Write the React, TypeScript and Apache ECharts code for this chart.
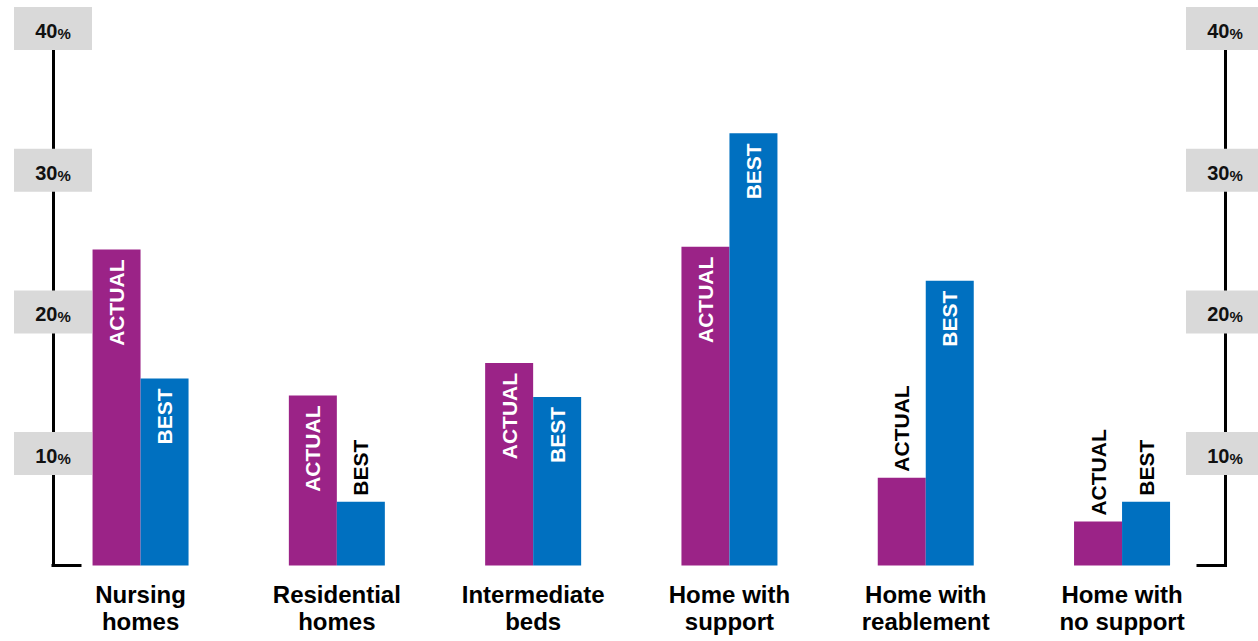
import React, { useEffect, useRef } from "react";
import * as echarts from "echarts";

// ---- data ----
const categories = [
  "Nursing\nhomes",
  "Residential\nhomes",
  "Intermediate\nbeds",
  "Home with\nsupport",
  "Home with\nreablement",
  "Home with\nno support",
];
const seriesNames = ["ACTUAL", "BEST"];
const actualValues = [24.4, 14.1, 16.4, 24.6, 8.3, 5.2];
const bestValues = [15.3, 6.6, 14.0, 32.6, 22.2, 6.6];
const tickValues = [10, 20, 30, 40];

// ---- layout / style ----
const W = 1258;
const H = 641;
const GRID = { left: 42.4, right: 37.8, top: 28.5, bottom: 75.5 };
const LEFT_AXIS_OFFSET = -10.6; // axis line sits at x = 53
const RIGHT_AXIS_OFFSET = 4.8; // axis line sits at x = 1225
const Y_MIN = 2.1; // visual baseline of the bars
const Y_MAX = 40;
const PX_PER_UNIT = (H - GRID.top - GRID.bottom) / (Y_MAX - Y_MIN);
const FONT = "'Liberation Sans', Arial, Helvetica, sans-serif";
const PURPLE = "#9B2387";
const BLUE = "#0070C0";
const LABEL_FONT_SIZE = 21;

function measureText(text: string): number {
  const c = document.createElement("canvas").getContext("2d");
  if (!c) return text.length * 14;
  c.font = `bold ${LABEL_FONT_SIZE}px ${FONT}`;
  return c.measureText(text).width;
}

function makeData(values: number[], name: string) {
  const textW = measureText(name);
  return values.map((v) => {
    const inside = (v - Y_MIN) * PX_PER_UNIT >= textW + 22;
    return {
      value: v,
      label: inside
        ? {
            show: true,
            position: "insideTop",
            distance: 10,
            rotate: 90,
            align: "right",
            verticalAlign: "middle",
            color: "#fff",
          }
        : {
            show: true,
            position: "top",
            distance: 6,
            rotate: 90,
            align: "left",
            verticalAlign: "middle",
            color: "#000",
          },
    };
  });
}

function yAxisConf(position: "left" | "right", offset: number) {
  return {
    type: "value",
    position,
    offset,
    min: Y_MIN,
    max: Y_MAX,
    splitLine: { show: false },
    axisLine: {
      show: true,
      lineStyle: { color: "#000", width: 3, cap: "square" },
    },
    axisTick: {
      show: true,
      inside: true,
      length: 27,
      customValues: [Y_MIN],
      lineStyle: { color: "#000", width: 3, cap: "square" },
    },
    axisLabel: {
      show: true,
      customValues: tickValues,
      margin: 0,
      align: "center",
      verticalAlign: "middle",
      backgroundColor: "#D9D9D9",
      width: 78,
      padding: [10, 0, 9, 0],
      formatter: (v: number) => `{n|${v}}{p|%}`,
      rich: {
        n: {
          fontFamily: FONT,
          fontSize: 20,
          fontWeight: "bold",
          color: "#111",
          lineHeight: 24,
          verticalAlign: "bottom",
        },
        p: {
          fontFamily: FONT,
          fontSize: 15,
          fontWeight: "bold",
          color: "#111",
          lineHeight: 24,
          verticalAlign: "bottom",
        },
      },
    },
  };
}

export default function App() {
  const ref = useRef<HTMLDivElement>(null);

  useEffect(() => {
    if (!ref.current) return;
    const chart = echarts.init(ref.current, undefined, { renderer: "svg" });
    const labelText = {
      fontFamily: FONT,
      fontSize: LABEL_FONT_SIZE,
      fontWeight: "bold",
    };
    chart.setOption({
      animation: false,
      backgroundColor: "#fff",
      grid: {
        ...GRID,
        containLabel: false,
        outerBoundsMode: "none",
      },
      xAxis: {
        type: "category",
        data: categories,
        axisLine: { show: false },
        axisTick: { show: false },
        axisLabel: {
          interval: 0,
          margin: 15,
          fontFamily: FONT,
          fontSize: 24,
          fontWeight: "bold",
          lineHeight: 27,
          color: "#000",
        },
      },
      yAxis: [
        yAxisConf("left", LEFT_AXIS_OFFSET),
        yAxisConf("right", RIGHT_AXIS_OFFSET),
      ],
      series: [
        {
          name: seriesNames[0],
          type: "bar",
          yAxisIndex: 0,
          barWidth: 48,
          barGap: "0%",
          itemStyle: { color: PURPLE },
          label: { ...labelText, formatter: seriesNames[0] },
          data: makeData(actualValues, seriesNames[0]),
        },
        {
          name: seriesNames[1],
          type: "bar",
          yAxisIndex: 0,
          barWidth: 48,
          barGap: "0%",
          itemStyle: { color: BLUE },
          label: { ...labelText, formatter: seriesNames[1] },
          data: makeData(bestValues, seriesNames[1]),
        },
      ],
    });
    return () => chart.dispose();
  }, []);

  return (
    <div
      ref={ref}
      style={{
        position: "fixed",
        left: 0,
        top: 0,
        width: W,
        height: H,
        background: "#fff",
      }}
    />
  );
}
